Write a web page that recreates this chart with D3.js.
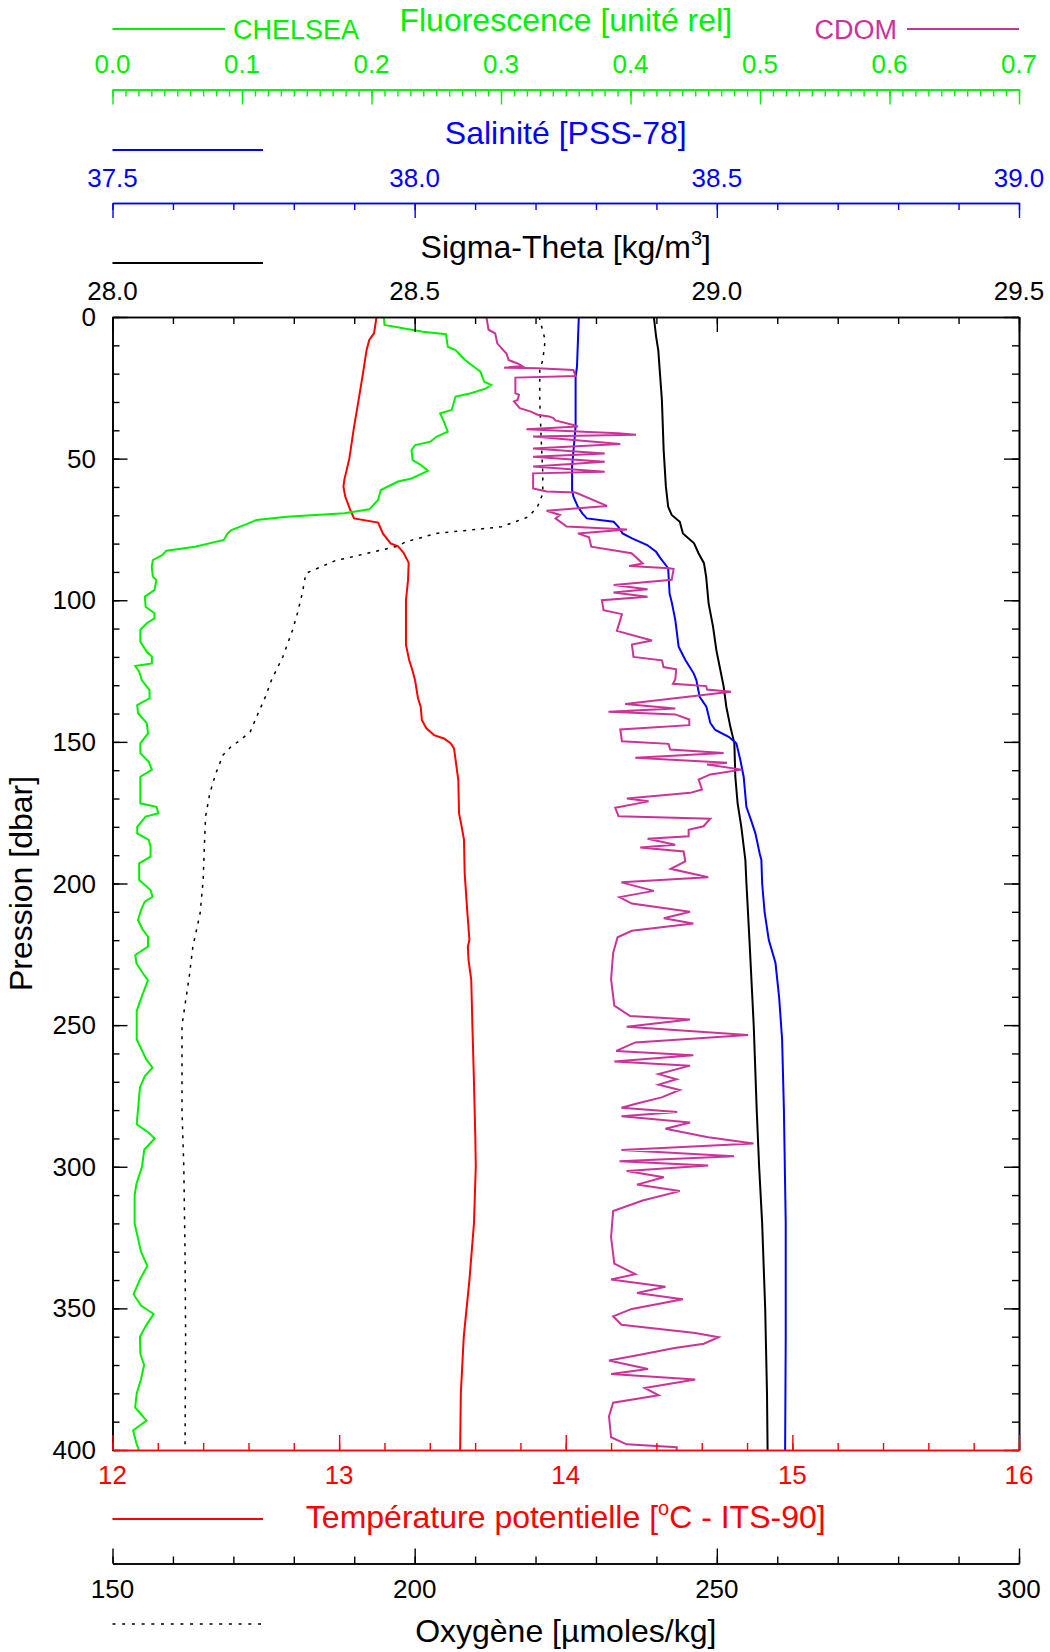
<!DOCTYPE html>
<html lang="fr">
<head>
<meta charset="UTF-8">
<title>Profil CTD</title>
<script src="https://cdnjs.cloudflare.com/ajax/libs/d3/7.8.5/d3.min.js"></script>
<style>
  html, body { margin: 0; padding: 0; background: #fff; }
  svg { display: block; font-family: "Liberation Sans", Arial, Helvetica, sans-serif; }
</style>
</head>
<body>
<div id="chart"></div>
<script>
// every series is [pression (dbar), valeur]
const temperature = [[0,13.165],[5.8,13.154],[8.1,13.133],[11.7,13.121],[20,13.105],[26.9,13.091],[38.7,13.066],[50,13.045],[57.5,13.023],[59.9,13.019],[63.4,13.027],[68.1,13.049],[71.1,13.066],[72.6,13.172],[76.4,13.193],[79.9,13.227],[81,13.26],[83.3,13.285],[86.8,13.307],[92.9,13.304],[99.9,13.295],[115.8,13.295],[121.1,13.309],[124.6,13.323],[128.2,13.335],[134.6,13.348],[137.6,13.36],[142.3,13.365],[145.2,13.385],[147.6,13.419],[148.8,13.462],[150.5,13.492],[152.3,13.507],[163.5,13.526],[175.2,13.529],[180,13.541],[184.6,13.551],[196.4,13.554],[210.5,13.566],[219.9,13.575],[222.3,13.568],[227,13.571],[234,13.583],[250,13.588],[270,13.595],[290,13.601],[300,13.603],[320,13.595],[340,13.575],[360,13.55],[380,13.537],[400,13.534]];

const fluorescence = [[0,0.2096],[2.8,0.21],[5.2,0.2397],[6.1,0.2575],[10.5,0.2589],[11.7,0.2649],[15.2,0.2723],[19.3,0.2841],[22.8,0.287],[24,0.2924],[25.2,0.2885],[26.9,0.2767],[28.1,0.2649],[32.8,0.2619],[34,0.253],[37,0.256],[40.5,0.2589],[42.3,0.2501],[44,0.2456],[45.2,0.2338],[47,0.2309],[50.5,0.2318],[52.3,0.2383],[54.3,0.2436],[57,0.2309],[58.1,0.2205],[61.1,0.2072],[64.6,0.2051],[67.9,0.1983],[69.3,0.1791],[70.5,0.1347],[71.7,0.1111],[73.1,0.1036],[75.2,0.0918],[76.4,0.0889],[78.7,0.0859],[81.1,0.0638],[82.5,0.0416],[84,0.0386],[85.8,0.0312],[88.2,0.0303],[91.7,0.0312],[92.9,0.0339],[96.4,0.0324],[98.7,0.025],[102.3,0.0256],[104.6,0.0324],[106.4,0.0324],[108.1,0.0265],[110.5,0.0215],[114.6,0.0215],[118.2,0.0265],[119.9,0.0304],[122.3,0.0304],[123.2,0.0176],[125.2,0.0206],[128.2,0.0226],[131.7,0.0286],[134.6,0.0286],[137,0.0191],[139.9,0.0197],[143.4,0.0265],[147,0.0274],[150.5,0.0215],[154,0.0215],[157,0.028],[159.9,0.0304],[162.3,0.0215],[171.7,0.0215],[172.9,0.0339],[175.2,0.0354],[176.4,0.0256],[180,0.0191],[182.3,0.0191],[184.6,0.028],[187,0.0294],[190.5,0.0294],[192.9,0.0206],[198.8,0.0206],[202.3,0.0294],[204.7,0.0309],[206.4,0.025],[209.4,0.022],[212.9,0.0197],[216.4,0.0235],[218.8,0.0274],[222.3,0.0274],[225.2,0.0176],[228.2,0.0185],[231.7,0.0235],[234.1,0.0274],[240,0.0225],[245,0.0187],[255,0.0187],[262,0.026],[265,0.0309],[268,0.025],[272,0.0212],[285,0.0187],[288,0.028],[290,0.0326],[294,0.0245],[300,0.0228],[306,0.0185],[310,0.0171],[320,0.0171],[330,0.022],[335,0.0269],[340,0.021],[345,0.0163],[349,0.022],[352,0.0317],[356,0.026],[360,0.0212],[366,0.0215],[370,0.0244],[375,0.022],[380,0.0187],[385,0.0175],[389.6,0.0263],[393.1,0.0159],[397.7,0.0185],[400,0.0203]];

const cdom = [[0,0.2887],[4.5,0.2904],[5.8,0.2955],[9.4,0.2972],[12.9,0.3042],[15.2,0.3059],[16.4,0.3128],[17.3,0.3163],[17.9,0.3024],[18.1,0.3283],[18.7,0.3559],[20.8,0.3576],[21.4,0.3111],[26.9,0.3111],[27.5,0.3139],[29.3,0.3128],[29.8,0.31],[32.2,0.3145],[33.4,0.3231],[34.5,0.3283],[35.1,0.337],[35.7,0.3404],[36.5,0.3421],[38.1,0.3559],[38.7,0.3594],[39.6,0.3196],[41,0.3904],[41.6,0.4042],[42.2,0.3248],[44.8,0.3921],[46.4,0.3248],[48.2,0.3801],[49.3,0.3248],[51.1,0.3801],[52.8,0.3248],[54.6,0.3801],[55.2,0.3248],[60.5,0.3248],[61.6,0.3352],[62,0.3576],[66.7,0.3818],[68.4,0.3352],[69.9,0.3455],[71.1,0.3421],[74,0.3507],[75,0.3973],[76.4,0.3594],[77.8,0.368],[81.1,0.3697],[83.4,0.4008],[87,0.4094],[87.9,0.399],[88.7,0.4301],[89,0.4333],[92.8,0.4318],[94.6,0.387],[96.1,0.4132],[97.3,0.3869],[98.8,0.4132],[100,0.3779],[103.5,0.3792],[104.9,0.3934],[110.8,0.3895],[114.2,0.4166],[115.6,0.4011],[120,0.4023],[121.2,0.4243],[123.6,0.4255],[124.4,0.4353],[127.9,0.4346],[129.5,0.4328],[130.3,0.4585],[131.5,0.4591],[132.3,0.4776],[136.6,0.3959],[138.2,0.4346],[139.4,0.383],[140.3,0.4346],[142.1,0.4454],[144.1,0.4454],[145.6,0.3921],[149.8,0.3934],[150.7,0.4294],[152.7,0.4307],[153.9,0.4719],[155.6,0.4037],[157.4,0.4745],[158,0.4591],[159.8,0.4861],[161.5,0.4616],[163.3,0.4526],[166.8,0.4552],[168,0.4462],[170,0.3972],[171,0.4139],[173.3,0.3882],[176.3,0.3908],[177.1,0.4616],[179.8,0.4564],[181,0.4449],[183.3,0.4449],[184.2,0.4132],[186.3,0.4346],[187.3,0.4075],[188.7,0.441],[192.2,0.4423],[194.8,0.431],[197.8,0.46],[199.6,0.393],[202.6,0.418],[204.8,0.3915],[207.1,0.401],[210,0.446],[212.3,0.4257],[214.1,0.4485],[216.7,0.401],[219,0.39],[224.5,0.3866],[233.8,0.385],[243.1,0.3875],[246.8,0.3997],[248,0.446],[250.6,0.397],[253.5,0.4908],[256.1,0.4037],[259.1,0.389],[260.6,0.4485],[262.8,0.3875],[264.3,0.446],[267.3,0.4217],[269.1,0.4355],[271,0.4217],[272.9,0.438],[275.5,0.424],[277.7,0.405],[279.2,0.393],[280.7,0.436],[282.2,0.393],[284.4,0.446],[286.6,0.427],[289.6,0.46],[291.8,0.495],[294.1,0.393],[296.3,0.48],[298.1,0.3915],[299.6,0.46],[301.5,0.397],[303.7,0.4257],[306.3,0.405],[308.6,0.438],[311.9,0.4094],[315.6,0.3866],[324.9,0.385],[334.2,0.3875],[337.9,0.4037],[339.8,0.385],[342.4,0.427],[344.6,0.405],[346.8,0.4404],[350.2,0.401],[352.8,0.3866],[355.8,0.393],[358.7,0.45],[360.2,0.468],[362.5,0.4567],[364,0.434],[366.2,0.4094],[368.4,0.3834],[371.4,0.4135],[373.2,0.385],[375.1,0.45],[378.1,0.411],[380.7,0.4217],[383.3,0.3866],[388.1,0.3834],[395.5,0.385],[398,0.397],[399,0.4357],[400,0.4357]];

const salinity = [[0,38.2716],[17.5,38.2686],[21.1,38.2663],[38.7,38.2663],[52.8,38.2605],[61.1,38.2605],[63.4,38.2627],[67,38.2701],[69.3,38.2774],[71.1,38.2849],[72.3,38.3293],[74,38.3367],[76.4,38.344],[78.1,38.3589],[80.5,38.3847],[82.9,38.3995],[85.2,38.4069],[88.7,38.4195],[97.6,38.4218],[101.1,38.4258],[107,38.4313],[116.4,38.4368],[121.1,38.4479],[125.8,38.4617],[128.2,38.4661],[134.1,38.4716],[137.6,38.4827],[143.4,38.4893],[145.8,38.4975],[148.2,38.5196],[150.5,38.5323],[156.4,38.5389],[162.3,38.5444],[172.9,38.5489],[178.7,38.5583],[182.3,38.5638],[189.4,38.5709],[191.7,38.5737],[200,38.575],[210,38.579],[220,38.586],[228,38.597],[240,38.603],[255,38.608],[280,38.611],[320,38.614],[360,38.614],[400,38.613]];

const sigmaTheta = [[0,28.8958],[6.9,28.8995],[11.7,28.9031],[29.3,28.9091],[47,28.912],[59.9,28.9157],[67,28.9195],[69.9,28.9253],[72.3,28.9387],[76.4,28.9439],[79.9,28.9624],[83.4,28.9697],[86.9,28.9787],[91.7,28.9823],[101.1,28.9864],[109.3,28.9937],[117.6,28.9992],[124.6,29.0058],[130.5,29.0113],[137.6,29.0157],[144.6,29.0223],[150.5,29.029],[162.3,29.0306],[171.7,29.0344],[180,29.0405],[191.7,29.0472],[200,29.049],[220,29.054],[250,29.061],[280,29.066],[300,29.07],[320,29.075],[350,29.08],[380,29.083],[400,29.084]];

const oxygen = [[0,220.6],[5.8,221.3],[8.1,221.6],[15.2,221.2],[18.8,220.7],[29.4,220.7],[41.2,220.9],[55.3,221.2],[62.4,221.2],[67.1,220.3],[70.6,218.8],[74.1,214.3],[76.4,203.6],[79.4,198.5],[80.9,197.2],[85.3,188.4],[85.8,187.1],[90.5,182],[97.6,181.4],[104.6,180.6],[110.5,179.8],[119.9,178.2],[128.2,176.3],[134.1,175.3],[139.9,174.1],[146.4,172.8],[149.3,171.2],[151.7,169.6],[154.6,168.3],[161.1,167.1],[168.2,166.1],[176.4,165.4],[187,165.2],[198.8,165],[210.5,164.5],[216.4,163.9],[222.3,163.3],[232.9,162.7],[250,161.5],[280,161.5],[300,161.8],[330,162],[360,162.1],[400,162]];

const pressureTicks = [0, 50, 100, 150, 200, 250, 300, 350, 400];
const fluoTicks = [0, 0.1, 0.2, 0.3, 0.4, 0.5, 0.6, 0.7];
const salTicks = [37.5, 38.0, 38.5, 39.0];
const sigmaTicks = [28.0, 28.5, 29.0, 29.5];
const tempTicks = [12, 13, 14, 15, 16];
const oxyTicks = [150, 200, 250, 300];

const GREEN = "#00f000", CDOM_COL = "#cc3399", BLUE = "#0000ff", RED = "#ff0000", BLACK = "#000";
const TITLE = 32, LABEL = 26;

const W = 1050, H = 1652;
const pLeft = 112.5, pRight = 1019, pTop = 317, pBottom = 1450;
const mid = (pLeft + pRight) / 2;

const svg = d3.select("#chart").append("svg").attr("width", W).attr("height", H);

const y = d3.scaleLinear().domain([0, 400]).range([pTop, pBottom]);
const xFluo = d3.scaleLinear().domain([0, 0.7]).range([pLeft, pRight]);
const xSal = d3.scaleLinear().domain([37.5, 39.0]).range([pLeft, pRight]);
const xSig = d3.scaleLinear().domain([28.0, 29.5]).range([pLeft, pRight]);
const xTemp = d3.scaleLinear().domain([12, 16]).range([pLeft, pRight]);
const xOxy = d3.scaleLinear().domain([150, 300]).range([pLeft, pRight]);

// ticks only (labels drawn separately): dir "down" = ticks under the line
function tickAxis(scale, yPos, major, minor, color, dir) {
  const make = dir === "down" ? d3.axisBottom : d3.axisTop;
  const g = svg.append("g").attr("transform", `translate(0,${yPos})`);
  g.append("g").call(make(scale).tickValues(minor).tickSize(7).tickFormat("").tickSizeOuter(0));
  g.append("g").call(make(scale).tickValues(major).tickSize(15).tickFormat("").tickSizeOuter(0));
  g.selectAll("path.domain").attr("stroke", color).attr("stroke-width", 1.6);
  g.selectAll(".tick line").attr("stroke", color).attr("stroke-width", 1.4);
  return g;
}

function tickLabels(scale, values, yBase, color, fmt) {
  svg.append("g").selectAll("text").data(values).join("text")
    .attr("x", d => scale(d)).attr("y", yBase)
    .attr("text-anchor", "middle").attr("font-size", LABEL).attr("fill", color)
    .text(fmt);
}

function title(yBase, color) {
  return svg.append("text").attr("x", mid).attr("y", yBase).attr("text-anchor", "middle")
    .attr("font-size", TITLE).attr("fill", color);
}

function step(a, b, s) { return d3.range(Math.round((b - a) / s) + 1).map(i => a + i * s); }

// ---- top: fluorescence
title(31, GREEN).text("Fluorescence [unité rel]");
svg.append("line").attr("x1", pLeft).attr("x2", 225).attr("y1", 29).attr("y2", 29)
  .attr("stroke", GREEN).attr("stroke-width", 2);
svg.append("text").attr("x", 233).attr("y", 39).attr("font-size", 27).attr("fill", GREEN).text("CHELSEA");
svg.append("line").attr("x1", 907).attr("x2", pRight).attr("y1", 29).attr("y2", 29)
  .attr("stroke", CDOM_COL).attr("stroke-width", 2);
svg.append("text").attr("x", 897).attr("y", 39).attr("text-anchor", "end")
  .attr("font-size", 27).attr("fill", CDOM_COL).text("CDOM");
tickLabels(xFluo, fluoTicks, 73, GREEN, d => d.toFixed(1));
tickAxis(xFluo, 89.5, fluoTicks, step(0, 0.7, 0.01), GREEN, "down");

// ---- salinity
svg.append("line").attr("x1", pLeft).attr("x2", 263).attr("y1", 150).attr("y2", 150)
  .attr("stroke", BLUE).attr("stroke-width", 2);
title(144, BLUE).text("Salinité [PSS-78]");
tickLabels(xSal, salTicks, 187, BLUE, d => d.toFixed(1));
tickAxis(xSal, 203, salTicks, step(37.5, 39.0, 0.1), BLUE, "down");

// ---- sigma-theta
svg.append("line").attr("x1", pLeft).attr("x2", 263).attr("y1", 263).attr("y2", 263)
  .attr("stroke", BLACK).attr("stroke-width", 2);
const st = title(258, BLACK);
st.append("tspan").text("Sigma-Theta [kg/m");
st.append("tspan").attr("dy", -13).attr("font-size", 20).text("3");
st.append("tspan").attr("dy", 13).text("]");
tickLabels(xSig, sigmaTicks, 300, BLACK, d => d.toFixed(1));

// ---- data
const plot = svg.append("g");
const line = (xs) => d3.line().x(d => xs(d[1])).y(d => y(d[0]));

plot.append("path").datum(oxygen).attr("d", line(xOxy)).attr("fill", "none")
  .attr("stroke", BLACK).attr("stroke-width", 1.5).attr("stroke-dasharray", "3,6");
plot.append("path").datum(temperature).attr("d", line(xTemp)).attr("fill", "none")
  .attr("stroke", RED).attr("stroke-width", 2);
plot.append("path").datum(sigmaTheta).attr("d", line(xSig)).attr("fill", "none")
  .attr("stroke", BLACK).attr("stroke-width", 2);
plot.append("path").datum(salinity).attr("d", line(xSal)).attr("fill", "none")
  .attr("stroke", BLUE).attr("stroke-width", 2);
plot.append("path").datum(fluorescence).attr("d", line(xFluo)).attr("fill", "none")
  .attr("stroke", GREEN).attr("stroke-width", 2);
plot.append("path").datum(cdom).attr("d", line(xFluo)).attr("fill", "none")
  .attr("stroke", CDOM_COL).attr("stroke-width", 2);

// ---- frame: sigma axis on top, pressure left/right, temperature at bottom
tickAxis(xSig, pTop, sigmaTicks, step(28.0, 29.5, 0.1), BLACK, "down");
const minorP = step(0, 400, 10);
const yl = svg.append("g").attr("transform", `translate(${pLeft},0)`);
yl.append("g").call(d3.axisRight(y).tickValues(minorP).tickSize(7).tickFormat("").tickSizeOuter(0));
yl.append("g").call(d3.axisRight(y).tickValues(pressureTicks).tickSize(15).tickFormat("").tickSizeOuter(0));
const yr = svg.append("g").attr("transform", `translate(${pRight},0)`);
yr.append("g").call(d3.axisLeft(y).tickValues(minorP).tickSize(7).tickFormat("").tickSizeOuter(0));
yr.append("g").call(d3.axisLeft(y).tickValues(pressureTicks).tickSize(15).tickFormat("").tickSizeOuter(0));
[yl, yr].forEach(g => {
  g.selectAll(".domain").attr("stroke", BLACK).attr("stroke-width", 1.6);
  g.selectAll(".tick line").attr("stroke", BLACK).attr("stroke-width", 1.4);
});

svg.append("g").selectAll("text").data(pressureTicks).join("text")
  .attr("x", 96).attr("y", d => y(d)).attr("dy", "0.35em")
  .attr("text-anchor", "end").attr("font-size", LABEL).attr("fill", BLACK).text(d => d);
svg.append("text").attr("transform", `translate(32,${(pTop + pBottom) / 2}) rotate(-90)`)
  .attr("text-anchor", "middle").attr("font-size", TITLE).attr("fill", BLACK).text("Pression [dbar]");

tickAxis(xTemp, pBottom, tempTicks, step(12, 16, 0.2), RED, "up");
tickLabels(xTemp, tempTicks, 1484, RED, d => d);

// ---- temperature legend
svg.append("line").attr("x1", pLeft).attr("x2", 263).attr("y1", 1519).attr("y2", 1519)
  .attr("stroke", RED).attr("stroke-width", 2);
const tt = title(1528, RED);
tt.append("tspan").text("Température potentielle [");
tt.append("tspan").attr("dy", -13).attr("font-size", 20).text("o");
tt.append("tspan").attr("dy", 13).text("C - ITS-90]");

// ---- oxygen
tickAxis(xOxy, 1563.5, oxyTicks, step(150, 300, 10), BLACK, "up");
tickLabels(xOxy, oxyTicks, 1598, BLACK, d => d);
svg.append("line").attr("x1", pLeft).attr("x2", 262).attr("y1", 1624).attr("y2", 1624)
  .attr("stroke", BLACK).attr("stroke-width", 1.5).attr("stroke-dasharray", "3,6.7");
title(1642, BLACK).text("Oxygène [µmoles/kg]");
</script>
</body>
</html>
